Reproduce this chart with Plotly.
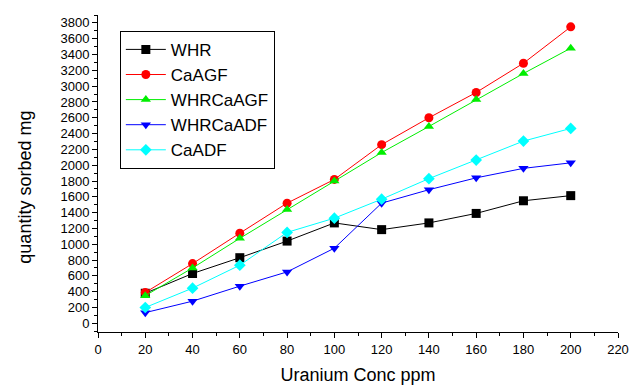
import plotly.graph_objects as go

conc = [20, 40, 60, 80, 100, 120, 140, 160, 180, 200]
whr = [380, 630, 830, 1040, 1270, 1185, 1270, 1390, 1550, 1615]
caagf = [390, 755, 1140, 1520, 1820, 2260, 2600, 2920, 3290, 3750]
whrcaagf = [350, 700, 1075, 1440, 1800, 2160, 2490, 2830, 3160, 3480]
whrcaadf = [135, 280, 470, 650, 950, 1520, 1690, 1840, 1960, 2030]
caadf = [200, 445, 735, 1150, 1330, 1570, 1830, 2065, 2305, 2465]

series = [
    ("WHR", whr, "black", "square"),
    ("CaAGF", caagf, "red", "circle"),
    ("WHRCaAGF", whrcaagf, "#00ee00", "triangle-up"),
    ("WHRCaADF", whrcaadf, "blue", "triangle-down"),
    ("CaADF", caadf, "cyan", "diamond"),
]

fig = go.Figure()
for name, vals, col, sym in series:
    fig.add_trace(go.Scatter(
        x=conc, y=vals, name=name, mode="lines+markers",
        line=dict(color=col, width=1),
        marker=dict(color=col, symbol=sym, size=9, line=dict(width=0)),
    ))

font = "Arial, Liberation Sans, sans-serif"
fig.update_layout(
    width=630, height=385,
    margin=dict(l=98, r=12, t=15, b=53),
    paper_bgcolor="white", plot_bgcolor="white",
    font=dict(family=font, color="black"),
    showlegend=True,
    legend=dict(
        x=0.042, y=0.95, xanchor="left", yanchor="top",
        bgcolor="white", bordercolor="black", borderwidth=1,
        font=dict(size=17, family=font), tracegroupgap=0,
        itemwidth=40,
    ),
    xaxis=dict(
        range=[0, 220], tickmode="linear", tick0=0, dtick=20, automargin=False,
        showgrid=False, zeroline=False, showline=True, linecolor="black", linewidth=1,
        ticks="outside", ticklen=5, tickcolor="black", tickfont=dict(size=13),
        minor=dict(ticks="outside", ticklen=3, dtick=10, tick0=0, tickcolor="black", showgrid=False),
        title=dict(text="Uranium Conc ppm", font=dict(size=18), standoff=14),
    ),
    yaxis=dict(
        range=[-110, 3900], tickmode="linear", tick0=0, dtick=200, automargin=False,
        showgrid=False, zeroline=False, showline=True, linecolor="black", linewidth=1,
        ticks="outside", ticklen=5, tickcolor="black", tickfont=dict(size=13),
        minor=dict(ticks="outside", ticklen=3, dtick=100, tick0=0, tickcolor="black", showgrid=False),
    ),
    annotations=[dict(
        text="quantity sorbed mg", textangle=-90, showarrow=False,
        xref="paper", yref="paper", x=-0.140, y=0.456,
        xanchor="center", yanchor="middle", font=dict(size=18, family=font),
    )],
)

fig.write_html("out.html")
